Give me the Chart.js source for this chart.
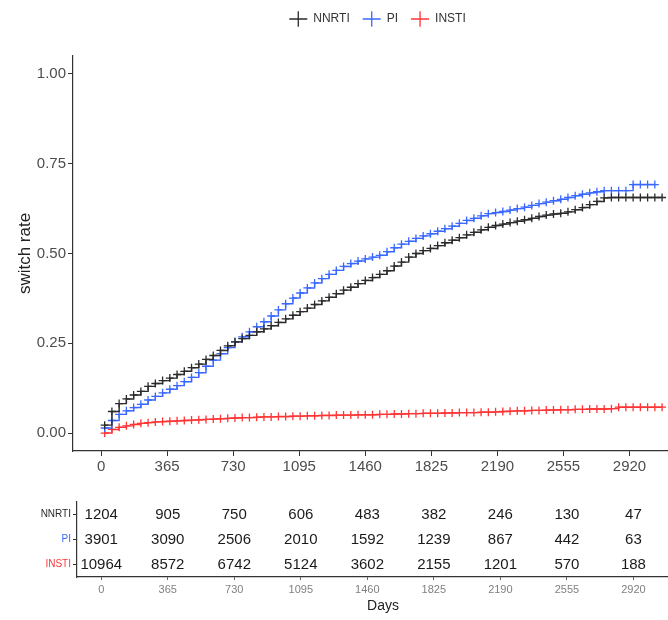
<!DOCTYPE html>
<html>
<head>
<meta charset="utf-8">
<script src="https://cdn.jsdelivr.net/npm/chart.js@4/dist/chart.umd.min.js"></script>
<style>
  html, body { margin: 0; padding: 0; background: #ffffff; overflow: hidden; width: 668px; height: 620px; }
  #main { position: absolute; left: 0; top: 0; width: 690px; height: 477px; }
  #table { position: absolute; left: 0; top: 477px; width: 690px; height: 143px; }
</style>
</head>
<body>
<div id="main"><canvas id="c1"></canvas></div>
<div id="table"><canvas id="c2"></canvas></div>
<script>
// ---- data ----
const seriesNames = ['NNRTI', 'PI', 'INSTI'];
const days = [20,60,100,140,180,220,260,300,340,380,420,460,500,540,580,620,660,700,740,780,
  820,860,900,940,980,1020,1060,1100,1140,1180,1220,1260,1300,1340,1380,1420,1460,1500,1540,1580,
  1620,1660,1700,1740,1780,1820,1860,1900,1940,1980,2020,2060,2100,2140,2180,2220,2260,2300,2340,2380,
  2420,2460,2500,2540,2580,2620,2660,2700,2740,2780,2820,2860,2900,2940,2980,3020,3060,3100];
const nnrtiRate = [0.022,0.060,0.082,0.095,0.106,0.116,0.130,0.138,0.146,0.153,0.163,0.172,0.182,0.192,0.205,0.216,0.230,0.243,0.254,0.263,
  0.272,0.282,0.290,0.299,0.308,0.318,0.328,0.338,0.348,0.358,0.368,0.378,0.388,0.398,0.406,0.416,0.425,0.433,0.442,0.452,
  0.465,0.476,0.490,0.500,0.508,0.514,0.522,0.530,0.537,0.544,0.552,0.559,0.566,0.573,0.578,0.582,0.586,0.590,0.594,0.598,
  0.603,0.607,0.610,0.612,0.616,0.622,0.628,0.636,0.645,0.655,0.656,0.656,0.656,0.656,0.656,0.656,0.656,0.656];
const piRate = [0.014,0.035,0.052,0.062,0.071,0.080,0.092,0.102,0.112,0.122,0.132,0.143,0.155,0.168,0.186,0.203,0.221,0.238,0.254,0.268,
  0.282,0.296,0.310,0.326,0.343,0.360,0.376,0.390,0.404,0.418,0.430,0.442,0.453,0.464,0.472,0.479,0.485,0.490,0.495,0.505,
  0.516,0.526,0.534,0.542,0.549,0.555,0.562,0.569,0.576,0.584,0.592,0.598,0.605,0.611,0.614,0.617,0.621,0.625,0.629,0.634,
  0.639,0.643,0.647,0.651,0.656,0.661,0.665,0.669,0.672,0.675,0.675,0.675,0.675,0.692,0.692,0.692,0.692,null];
const instiRate = [0.000,0.010,0.016,0.020,0.024,0.027,0.029,0.031,0.032,0.033,0.034,0.035,0.036,0.037,0.038,0.039,0.040,0.041,0.042,0.043,
  0.043,0.044,0.045,0.045,0.046,0.046,0.047,0.047,0.048,0.048,0.049,0.049,0.050,0.050,0.050,0.051,0.051,0.051,0.052,0.052,
  0.053,0.053,0.054,0.054,0.055,0.055,0.055,0.056,0.056,0.057,0.057,0.057,0.058,0.058,0.059,0.060,0.061,0.062,0.062,0.063,
  0.063,0.064,0.064,0.065,0.065,0.066,0.066,0.067,0.067,0.067,0.068,0.072,0.072,0.072,0.072,0.072,0.072,0.072];
const xTicks = [0,365,730,1095,1460,1825,2190,2555,2920];
const yTicks = [0,0.25,0.5,0.75,1.0];
const riskDays = [0,365,730,1095,1460,1825,2190,2555,2920];
const nnrtiRisk = [1204,905,750,606,483,382,246,130,47];
const piRisk = [3901,3090,2506,2010,1592,1239,867,442,63];
const instiRisk = [10964,8572,6742,5124,3602,2155,1201,570,188];

const colors = ['#2b2b2b', '#3a68ff', '#ff3535'];
const FONT = '"Liberation Sans", Arial, sans-serif';
Chart.defaults.font.family = FONT;
Chart.defaults.animation = false;

function toPts(vals) { return days.map((d, i) => ({x: d, y: vals[i]})); }
function mkSet(label, vals, col) {
  return {
    label, data: toPts(vals), borderColor: col, backgroundColor: col,
    borderWidth: 1.4, stepped: true, pointStyle: 'cross', pointRadius: 4,
    pointBorderWidth: 1.3, pointBorderColor: col, pointHoverRadius: 4, spanGaps: false
  };
}

const legendPlugin = {
  id: 'legendTweak',
  afterInit(chart) {
    const lg = chart.legend;
    if (lg) {
      const orig = lg.fit.bind(lg);
      lg.fit = function () { orig(); this.height = 56; };
    }
  },
  afterLayout(chart) {
    const lg = chart.legend;
    if (lg) { lg.left += 33; lg.right += 33; }
  }
};

new Chart(document.getElementById('c1'), {
  type: 'line',
  data: { datasets: [
    mkSet(seriesNames[0], nnrtiRate, colors[0]),
    mkSet(seriesNames[1], piRate, colors[1]),
    mkSet(seriesNames[2], instiRate, colors[2])
  ]},
  options: {
    responsive: true, maintainAspectRatio: false,
    layout: { padding: { left: 0, right: 1, top: 0, bottom: 0 } },
    plugins: {
      legend: {
        position: 'top',
        labels: { usePointStyle: true, pointStyle: 'cross', pointStyleWidth: 18, boxWidth: 18, boxHeight: 11,
          padding: 13, color: '#333', font: { size: 12 } }
      },
      tooltip: { enabled: false }
    },
    scales: {
      x: {
        type: 'linear', min: -155, max: 3225,
        afterBuildTicks: s => { s.ticks = xTicks.map(v => ({value: v})); },
        afterFit: s => { s.height = 26; },
        grid: { display: true, drawOnChartArea: false, tickLength: 5, tickColor: '#333', tickWidth: 1 },
        border: { display: true, color: '#333', width: 1.2 },
        ticks: { color: '#4d4d4d', font: { size: 15 }, padding: 2, maxRotation: 0, autoSkip: false,
          callback: v => String(v) }
      },
      y: {
        type: 'linear', min: -0.05, max: 1.05,
        afterBuildTicks: s => { s.ticks = yTicks.map(v => ({value: v})); },
        afterFit: s => { s.width = 73; },
        grid: { display: true, drawOnChartArea: false, tickLength: 5, tickColor: '#333', tickWidth: 1 },
        border: { display: true, color: '#333', width: 1.2 },
        ticks: { color: '#4d4d4d', font: { size: 15 }, padding: 2, callback: v => Number(v).toFixed(2) },
        title: { display: true, text: 'switch rate', color: '#222', font: { size: 17 }, padding: { top: 15, bottom: 0 } }
      }
    }
  },
  plugins: [legendPlugin]
});

const riskRows = [nnrtiRisk, piRisk, instiRisk];
const riskTextPlugin = {
  id: 'riskText',
  afterDatasetsDraw(chart) {
    const {ctx, scales: {x, y}} = chart;
    ctx.save();
    ctx.font = '15px ' + FONT;
    ctx.fillStyle = '#1a1a1a';
    ctx.textAlign = 'center';
    ctx.textBaseline = 'middle';
    riskRows.forEach((row, r) => {
      row.forEach((n, i) => {
        ctx.fillText(String(n), x.getPixelForValue(riskDays[i]), y.getPixelForValue(r + 1));
      });
    });
    ctx.restore();
  }
};

new Chart(document.getElementById('c2'), {
  type: 'scatter',
  data: { datasets: [{ data: [], pointRadius: 0 }] },
  options: {
    responsive: true, maintainAspectRatio: false,
    layout: { padding: { left: 0, right: 1, top: 25, bottom: 0 } },
    plugins: { legend: { display: false }, tooltip: { enabled: false } },
    scales: {
      x: {
        type: 'linear', min: -133, max: 3225,
        afterBuildTicks: s => { s.ticks = riskDays.map(v => ({value: v})); },
        afterFit: s => { s.height = 43; },
        grid: { display: true, drawOnChartArea: false, tickLength: 3, tickColor: '#666', tickWidth: 1 },
        border: { display: true, color: '#333', width: 1.2 },
        ticks: { color: '#808080', font: { size: 11 }, padding: 3, maxRotation: 0, autoSkip: false,
          callback: v => String(v) },
        title: { display: true, text: 'Days', color: '#222', font: { size: 14 }, padding: { top: 0, bottom: 5 } }
      },
      y: {
        type: 'linear', min: 0.5, max: 3.5, reverse: true,
        afterBuildTicks: s => { s.ticks = [1, 2, 3].map(v => ({value: v})); },
        afterFit: s => { s.width = 77; },
        grid: { display: true, drawOnChartArea: false, tickLength: 4, tickColor: '#333', tickWidth: 1 },
        border: { display: true, color: '#333', width: 1.2 },
        ticks: { font: { size: 10 }, padding: 2,
          color: c => colors[(c.index !== undefined ? c.index : 0)],
          callback: v => seriesNames[v - 1] }
      }
    }
  },
  plugins: [riskTextPlugin]
});
</script>
</body>
</html>
